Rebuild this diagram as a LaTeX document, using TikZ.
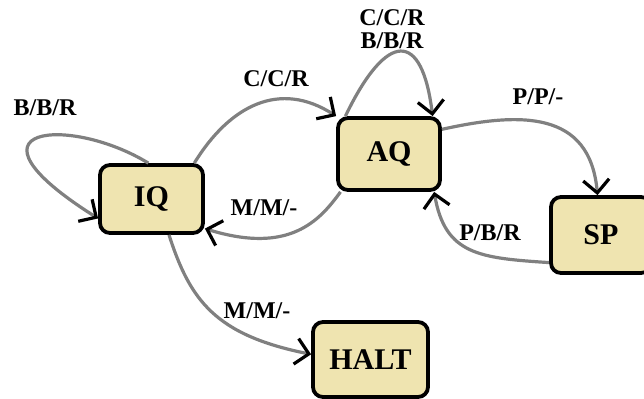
\documentclass[tikz,border=0pt]{standalone}
\usepackage{fontspec}
\setmainfont{Liberation Serif}
\usetikzlibrary{arrows.meta}
\definecolor{statefill}{RGB}{239,228,176}
\definecolor{edgegray}{RGB}{128,128,128}

\begin{document}
\begin{tikzpicture}[
  x=0.5pt, y=0.5pt,
  font=\fontsize{12}{11.5}\selectfont\bfseries,
  state/.style={rectangle, rounded corners=5pt, draw=black, line width=1.9pt,
    fill=statefill, inner sep=0pt, font=\fontsize{15}{17}\selectfont\bfseries},
  labeltext/.style={align=center, inner sep=0pt},
  trans/.style={draw=edgegray, line width=1.6pt,
    -{Straight Barb[color=black, length=6.5pt, width=13pt, line width=1.6pt]}}
]
  \useasboundingbox (0,0) rectangle (644,-398);

  % States.
  \node[state, minimum width=51.5pt, minimum height=34pt] (iq) at (151.5,-199) {IQ};
  \node[state, minimum width=51pt, minimum height=36pt] (aq) at (389,-154) {AQ};
  \node[state, minimum width=50pt, minimum height=38pt] (sp) at (601,-235) {SP};
  \node[state, minimum width=57.5pt, minimum height=37.5pt] (halt) at (370.5,-359.5) {HALT};

  % Labels.
  \node[labeltext] (lbbr) at (45,-108) {B/B/R};
  \node[labeltext] (lccr) at (276,-79) {C/C/R};
  \node[labeltext] (laqloop) at (392,-29) {C/C/R\\B/B/R};
  \node[labeltext] (lppm) at (538,-97) {P/P/-};
  \node[labeltext] (lpbr) at (490,-233) {P/B/R};
  \node[labeltext] (lmmback) at (264,-208) {M/M/-};
  \node[labeltext] (lmmhalt) at (257,-311) {M/M/-};

  % Transitions.
  \draw[trans] (iq.95) .. controls (70,-115) and (-50,-125) .. (iq.200);
  \draw[trans] (iq.40) .. controls (230,-105) and (280,-80) .. (aq.north west);
  \draw[trans] (aq.139) .. controls (387,-30) and (422,-30) .. (aq.41);
  \draw[trans] (aq.25) .. controls (520,-112) and (590,-110) .. (sp.95);
  \draw[trans] (sp.208) .. controls (480,-258) and (445,-255) .. (aq.320);
  \draw[trans] (aq.218) .. controls (320,-220) and (290,-255) .. (iq.331);
  \draw[trans] (iq.296) .. controls (190,-300) and (215,-335) .. (halt.175);
\end{tikzpicture}
\end{document}
